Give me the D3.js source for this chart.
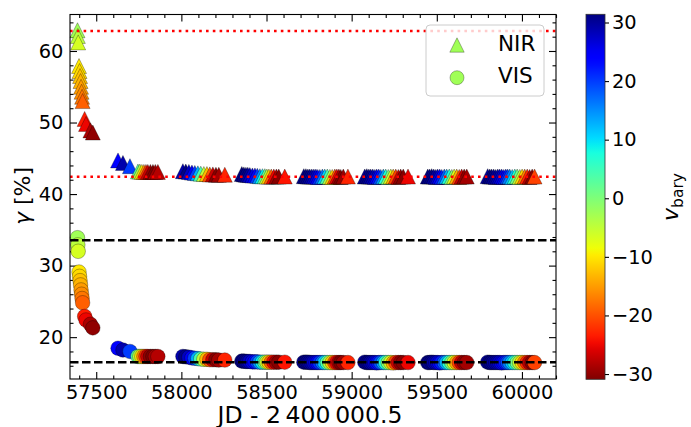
<!DOCTYPE html>
<html>
<head>
<meta charset="utf-8">
<script src="https://cdn.jsdelivr.net/npm/d3@7"></script>
<style>
  body { margin: 0; background: #fff; }
</style>
</head>
<body>
<div id="chart"></div>
<script>
// epochs (JD - 2400000.5), one line per observing season
var jd = [
  57390, 57392, 57394, 57399, 57402, 57405, 57408, 57411, 57414, 57417, 57420, 57432, 57440, 57466, 57480,
  57628, 57657, 57698, 57745, 57756, 57768, 57780, 57792, 57803, 57818, 57833, 57847, 57862,
  58009, 58026, 58044, 58062, 58079, 58097, 58114, 58132, 58150, 58167, 58185, 58203, 58220, 58255,
  58355, 58367, 58379, 58390, 58402, 58417, 58432, 58446, 58461, 58476, 58490, 58502, 58514, 58528, 58543, 58558, 58572, 58607,
  58719, 58731, 58743, 58754, 58766, 58778, 58790, 58801, 58813, 58828, 58842, 58857, 58872, 58886, 58901, 58913, 58925, 58936, 58951, 58978,
  59077, 59089, 59101, 59112, 59124, 59136, 59147, 59159, 59171, 59186, 59200, 59215, 59230, 59244, 59259, 59274, 59288, 59303, 59331,
  59447, 59458, 59470, 59482, 59494, 59505, 59517, 59529, 59544, 59558, 59573, 59588, 59602, 59617, 59632, 59646, 59661, 59676,
  59799, 59811, 59822, 59834, 59846, 59858, 59869, 59881, 59893, 59905, 59916, 59928, 59943, 59958, 59972, 59987, 60001, 60016, 60031, 60045, 60060, 60074
];

// barycentric velocity (colour)
var vbary = [
  -2.5, -4.5, -6.5, -10, -11, -12.5, -13.5, -15, -16, -17.5, -19, -23.5, -25, -28.5, -30,
  24, 29, 20, 3, -4, -10, -16, -22, -27, -30, -30.9, -29, -28,
  29, 31, 28, 25, 20, 13, 4, -5, -13, -20, -27, -30.5, -29, -23,
  31.4, 31, 30.5, 29.5, 28, 26, 23.5, 20, 15, 9, 2, -5, -12, -19, -25, -29, -30.5, -24,
  31, 31.2, 30.5, 30, 29, 27.5, 26, 24, 21, 17, 11, 4, -4, -12, -20, -25, -29, -30.9, -29.5, -23,
  30, 31, 30.5, 29.5, 28.5, 27, 25, 22.5, 19, 14, 7, 0, -7, -14, -21, -27, -30, -30.5, -25,
  31.2, 30.5, 31, 29.5, 28.5, 27, 25, 22, 18, 13, 7, 0, -7, -14, -21, -27, -30, -29,
  30, 31.3, 30.8, 30, 29.5, 28.5, 27.5, 26, 24, 22, 19.5, 16, 12, 7, 1, -5, -11, -17, -23, -28, -30.5, -21
];

// gamma [%] for NIR
var gammaNIR = [
  62.9, 62.1, 61.2, 57.9, 57.2, 56.5, 55.8, 55.0, 54.3, 53.6, 53.0, 50.5, 49.8, 48.9, 48.6,
  44.7, 44.35, 43.9, 43.15, 43.15, 43.1, 43.1, 43.1, 43.1, 43.1, 43.1, 43.1, 43.1,
  43.2, 43.15, 43.1, 43.0, 42.95, 42.9, 42.85, 42.8, 42.8, 42.75, 42.75, 42.7, 42.7, 42.7,
  42.8, 42.75, 42.7, 42.7, 42.65, 42.6, 42.6, 42.55, 42.5, 42.5, 42.5, 42.45, 42.45, 42.45, 42.45, 42.45, 42.45, 42.45,
  42.5, 42.5, 42.45, 42.45, 42.45, 42.45, 42.45, 42.4, 42.4, 42.45, 42.45, 42.45, 42.4, 42.4, 42.45, 42.45, 42.45, 42.4, 42.45, 42.45,
  42.45, 42.5, 42.45, 42.45, 42.45, 42.4, 42.45, 42.45, 42.4, 42.45, 42.45, 42.4, 42.45, 42.45, 42.45, 42.4, 42.45, 42.45, 42.45,
  42.45, 42.45, 42.5, 42.45, 42.4, 42.45, 42.45, 42.4, 42.45, 42.45, 42.45, 42.4, 42.45, 42.45, 42.4, 42.45, 42.45, 42.45,
  42.5, 42.45, 42.45, 42.45, 42.4, 42.45, 42.45, 42.45, 42.4, 42.45, 42.45, 42.45, 42.4, 42.45, 42.45, 42.4, 42.45, 42.45, 42.45, 42.4, 42.45, 42.45
];

// gamma [%] for VIS
var gammaVIS = [
  33.9, 32.9, 32.0, 29.1, 28.5, 27.9, 27.3, 26.6, 26.0, 25.4, 24.8, 22.9, 22.4, 21.8, 21.3,
  18.45, 18.2, 18.0, 17.3, 17.3, 17.3, 17.3, 17.3, 17.3, 17.3, 17.3, 17.3, 17.3,
  17.3, 17.25, 17.2, 17.1, 17.05, 17.0, 16.95, 16.9, 16.9, 16.85, 16.85, 16.85, 16.8, 16.8,
  16.65, 16.65, 16.6, 16.6, 16.6, 16.55, 16.55, 16.55, 16.5, 16.5, 16.5, 16.5, 16.5, 16.5, 16.5, 16.5, 16.5, 16.5,
  16.5, 16.5, 16.5, 16.45, 16.45, 16.45, 16.45, 16.45, 16.45, 16.45, 16.45, 16.45, 16.45, 16.45, 16.45, 16.45, 16.45, 16.45, 16.45, 16.45,
  16.5, 16.45, 16.45, 16.45, 16.45, 16.45, 16.4, 16.45, 16.45, 16.45, 16.45, 16.45, 16.45, 16.4, 16.45, 16.45, 16.45, 16.45, 16.45,
  16.45, 16.45, 16.5, 16.45, 16.45, 16.45, 16.4, 16.45, 16.45, 16.45, 16.45, 16.45, 16.45, 16.45, 16.45, 16.45, 16.45, 16.45,
  16.5, 16.45, 16.45, 16.45, 16.45, 16.45, 16.45, 16.4, 16.45, 16.45, 16.45, 16.45, 16.45, 16.45, 16.45, 16.45, 16.45, 16.45, 16.45, 16.45, 16.45, 16.45
];

// horizontal reference levels
var nirLevels = [62.8, 42.43];
var visLevels = [33.55, 16.5];

var xTicks = [57500, 58000, 58500, 59000, 59500, 60000];
var yTicks = [20, 30, 40, 50, 60];
var cbarTicks = [-30, -20, -10, 0, 10, 20, 30];
var seriesNames = ["NIR", "VIS"];

var width = 691;
var height = 427;
var plot = { left: 70, top: 14.5, right: 556, bottom: 379 };
var cbar = { left: 586, right: 605, top: 14.3, bottom: 379.3 };
var font = "DejaVu Sans";

var points = jd.map(function(d, i) {
    return { jd: d, v: vbary[i], nir: gammaNIR[i], vis: gammaVIS[i] };
});

var svg = d3.select("#chart")
    .append("svg")
    .attr("width", width)
    .attr("height", height)
    .attr("font-family", font);

var x = d3.scaleLinear().domain([57346, 60200]).range([plot.left, plot.right]);
var y = d3.scaleLinear().domain([14.15, 65.1]).range([plot.bottom, plot.top]);

// jet colormap, reversed so that positive velocities are blue
var vExtent = d3.extent(vbary);
var tScale = d3.scaleLinear().domain([vExtent[1], vExtent[0]]).range([0, 1]);
var rS = d3.scaleLinear().domain([0, 0.35, 0.66, 0.89, 1]).range([0, 0, 1, 1, 0.5]).clamp(true);
var gS = d3.scaleLinear().domain([0, 0.125, 0.375, 0.64, 0.91, 1]).range([0, 0, 1, 1, 0, 0]).clamp(true);
var bS = d3.scaleLinear().domain([0, 0.11, 0.34, 0.65, 1]).range([0.5, 1, 1, 0, 0]).clamp(true);
function colour(v) {
    var t = tScale(v);
    return d3.rgb(rS(t) * 255, gS(t) * 255, bS(t) * 255).formatHex();
}

function triangle(h) {
    return "M0," + (-h) + "L" + h + "," + h + "L" + (-h) + "," + h + "Z";
}

// ticks: major + minor, pointing inwards on all four sides
var xMinor = d3.range(57400, 60201, 100).filter(function(d) { return d % 500 !== 0; });
var yMinor = d3.range(16, 65, 2).filter(function(d) { return d % 10 !== 0; });

function styleAxis(g) {
    g.select(".domain").remove();
    g.selectAll("line").attr("stroke", "#000").attr("stroke-width", 1.1);
    g.selectAll("text").attr("fill", "#000").attr("font-size", 19.4).attr("font-family", font);
}

svg.append("g")
    .attr("transform", "translate(0," + plot.bottom + ")")
    .call(d3.axisBottom(x).tickValues(xTicks).tickSize(-7).tickPadding(6.5).tickFormat(d3.format("d")))
    .call(styleAxis);
svg.append("g")
    .attr("transform", "translate(0," + plot.bottom + ")")
    .call(d3.axisBottom(x).tickValues(xMinor).tickSize(-3.5).tickFormat(""))
    .call(styleAxis);
svg.append("g")
    .attr("transform", "translate(0," + plot.top + ")")
    .call(d3.axisTop(x).tickValues(xTicks).tickSize(-7).tickFormat(""))
    .call(styleAxis);
svg.append("g")
    .attr("transform", "translate(0," + plot.top + ")")
    .call(d3.axisTop(x).tickValues(xMinor).tickSize(-3.5).tickFormat(""))
    .call(styleAxis);

svg.append("g")
    .attr("transform", "translate(" + plot.left + ",0)")
    .call(d3.axisLeft(y).tickValues(yTicks).tickSize(-7).tickPadding(6.7))
    .call(styleAxis);
svg.append("g")
    .attr("transform", "translate(" + plot.left + ",0)")
    .call(d3.axisLeft(y).tickValues(yMinor).tickSize(-3.5).tickFormat(""))
    .call(styleAxis);
svg.append("g")
    .attr("transform", "translate(" + plot.right + ",0)")
    .call(d3.axisRight(y).tickValues(yTicks).tickSize(-7).tickFormat(""))
    .call(styleAxis);
svg.append("g")
    .attr("transform", "translate(" + plot.right + ",0)")
    .call(d3.axisRight(y).tickValues(yMinor).tickSize(-3.5).tickFormat(""))
    .call(styleAxis);

// scatter: NIR triangles then VIS circles
svg.append("g").selectAll("path")
    .data(points)
    .enter().append("path")
    .attr("d", triangle(7.5))
    .attr("transform", function(d) { return "translate(" + x(d.jd) + "," + y(d.nir) + ")"; })
    .attr("fill", function(d) { return colour(d.v); })
    .attr("stroke", "#000")
    .attr("stroke-opacity", 0.6)
    .attr("stroke-width", 0.5);

svg.append("g").selectAll("circle")
    .data(points)
    .enter().append("circle")
    .attr("cx", function(d) { return x(d.jd); })
    .attr("cy", function(d) { return y(d.vis); })
    .attr("r", 7.3)
    .attr("fill", function(d) { return colour(d.v); })
    .attr("stroke", "#000")
    .attr("stroke-opacity", 0.6)
    .attr("stroke-width", 0.5);

// reference levels
svg.selectAll(".nirlevel")
    .data(nirLevels)
    .enter().append("line")
    .attr("x1", plot.left).attr("x2", plot.right)
    .attr("y1", function(d) { return y(d); }).attr("y2", function(d) { return y(d); })
    .attr("stroke", "#ff0000")
    .attr("stroke-width", 2.6)
    .attr("stroke-dasharray", "2.6,4.2");

svg.selectAll(".vislevel")
    .data(visLevels)
    .enter().append("line")
    .attr("x1", plot.left).attr("x2", plot.right)
    .attr("y1", function(d) { return y(d); }).attr("y2", function(d) { return y(d); })
    .attr("stroke", "#000")
    .attr("stroke-width", 2.6)
    .attr("stroke-dasharray", "8.5,3.5");

// frame
svg.append("rect")
    .attr("x", plot.left).attr("y", plot.top)
    .attr("width", plot.right - plot.left)
    .attr("height", plot.bottom - plot.top)
    .attr("fill", "none")
    .attr("stroke", "#000")
    .attr("stroke-width", 1.1);

// legend
var legend = svg.append("g");
legend.append("rect")
    .attr("x", 426).attr("y", 25)
    .attr("width", 118).attr("height", 71)
    .attr("rx", 4)
    .attr("fill", "#fff").attr("fill-opacity", 0.8)
    .attr("stroke", "#cccccc");
var legendColour = colour(vbary[0]);
legend.append("path")
    .attr("d", triangle(7.2))
    .attr("transform", "translate(457,45)")
    .attr("fill", legendColour).attr("stroke", "#000").attr("stroke-opacity", 0.6).attr("stroke-width", 0.5);
legend.append("circle")
    .attr("cx", 457).attr("cy", 77.7).attr("r", 7)
    .attr("fill", legendColour).attr("stroke", "#000").attr("stroke-opacity", 0.6).attr("stroke-width", 0.5);
legend.selectAll("text")
    .data(seriesNames)
    .enter().append("text")
    .attr("x", 498)
    .attr("y", function(d, i) { return 50.7 + i * 32.6; })
    .attr("font-size", 21.5)
    .text(function(d) { return d; });

// axis labels
var yLabel = svg.append("text")
    .attr("transform", "translate(30,196) rotate(-90)")
    .attr("text-anchor", "middle")
    .attr("font-size", 22);
yLabel.append("tspan").attr("font-style", "italic").text("γ");
yLabel.append("tspan").text(" [%]");

svg.append("text")
    .attr("x", (plot.left + plot.right) / 2 - 3)
    .attr("y", 422.5)
    .attr("text-anchor", "middle")
    .attr("font-size", 23.5)
    .text("JD - 2\u2009400\u2009000.5");

// colorbar
var defs = svg.append("defs");
var grad = defs.append("linearGradient")
    .attr("id", "jet")
    .attr("x1", 0).attr("y1", 0).attr("x2", 0).attr("y2", 1);
grad.selectAll("stop")
    .data(d3.range(0, 1.0001, 0.02))
    .enter().append("stop")
    .attr("offset", function(d) { return d; })
    .attr("stop-color", function(d) { return colour(vExtent[1] - d * (vExtent[1] - vExtent[0])); });

svg.append("rect")
    .attr("x", cbar.left).attr("y", cbar.top)
    .attr("width", cbar.right - cbar.left)
    .attr("height", cbar.bottom - cbar.top)
    .attr("fill", "url(#jet)")
    .attr("stroke", "#333")
    .attr("stroke-width", 0.8);

var c = d3.scaleLinear().domain(vExtent).range([cbar.bottom, cbar.top]);
svg.append("g")
    .attr("transform", "translate(" + cbar.right + ",0)")
    .call(d3.axisRight(c).tickValues(cbarTicks).tickSize(4).tickPadding(3))
    .call(styleAxis);

var cLabel = svg.append("text")
    .attr("transform", "translate(678,197) rotate(-90)")
    .attr("text-anchor", "middle")
    .attr("font-size", 22);
cLabel.append("tspan").attr("font-style", "italic").text("v");
cLabel.append("tspan").attr("font-size", 15.5).attr("dy", 5).text("bary");
</script>
</body>
</html>
